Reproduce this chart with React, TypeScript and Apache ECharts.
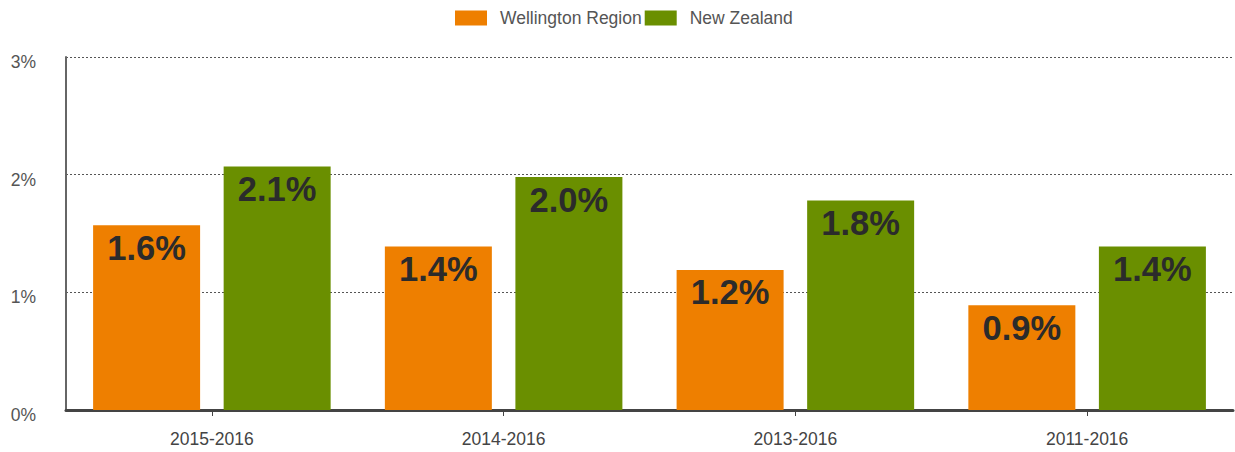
import React, { useEffect, useRef } from "react";
import * as echarts from "echarts";

const categories = ["2015-2016", "2014-2016", "2013-2016", "2011-2016"];
const wellington = [1.57, 1.39, 1.19, 0.89];
const newZealand = [2.07, 1.98, 1.78, 1.39];
const seriesNames = ["Wellington Region", "New Zealand"];
const colors = ["#EE7F00", "#6A8F00"];

export default function App() {
  const ref = useRef<HTMLDivElement>(null);
  useEffect(() => {
    if (!ref.current) return;
    const chart = echarts.init(ref.current, null, { renderer: "svg" });
    const font = "'Liberation Sans', Arial, sans-serif";
    const label = {
      show: true,
      position: "insideTop",
      distance: 5,
      fontSize: 34.5,
      fontWeight: "bold",
      color: "#2b2b2b",
      fontFamily: font,
      formatter: (p: any) => p.value.toFixed(1) + "%",
    };
    chart.setOption({
      animation: false,
      textStyle: { fontFamily: font },
      legend: {
        top: 4,
        left: 450,
        itemWidth: 32,
        itemHeight: 15,
        itemGap: 3,
        icon: "rect",
        textStyle: { fontSize: 17.5, color: "#555", fontFamily: font, padding: [0, 0, 0, 8] },
        data: seriesNames,
      },
      grid: { left: 66, right: 2, top: 57, bottom: 42, containLabel: false },
      xAxis: {
        type: "category",
        data: categories,
        axisLine: { show: true, lineStyle: { color: "#444", width: 3 } },
        axisTick: { show: true, alignWithLabel: true, length: 6, lineStyle: { color: "#444", width: 1 } },
        axisLabel: { color: "#444", fontSize: 17.5, margin: 20, fontFamily: font },
      },
      yAxis: {
        type: "value",
        min: 0,
        max: 3,
        interval: 1,
        axisLine: { show: true, lineStyle: { color: "#666", width: 2 } },
        axisTick: { show: false },
        axisLabel: {
          color: "#555",
          fontSize: 17.5,
          margin: 30,
          formatter: "{value}%",
          fontFamily: font,
          verticalAlign: "top",
          lineHeight: 10,
        },
        splitLine: { show: true, lineStyle: { color: "#555", type: [2, 2], width: 1 } },
      },
      series: [
        {
          name: seriesNames[0],
          type: "bar",
          data: wellington,
          itemStyle: { color: colors[0] },
          barWidth: 107,
          barGap: "22%",
          label,
        },
        {
          name: seriesNames[1],
          type: "bar",
          data: newZealand,
          itemStyle: { color: colors[1] },
          barWidth: 107,
          barGap: "22%",
          label,
        },
      ],
    });
    return () => chart.dispose();
  }, []);
  return (
    <div
      ref={ref}
      style={{ position: "fixed", left: 0, top: 0, width: 1235, height: 452, background: "#fff" }}
    />
  );
}
